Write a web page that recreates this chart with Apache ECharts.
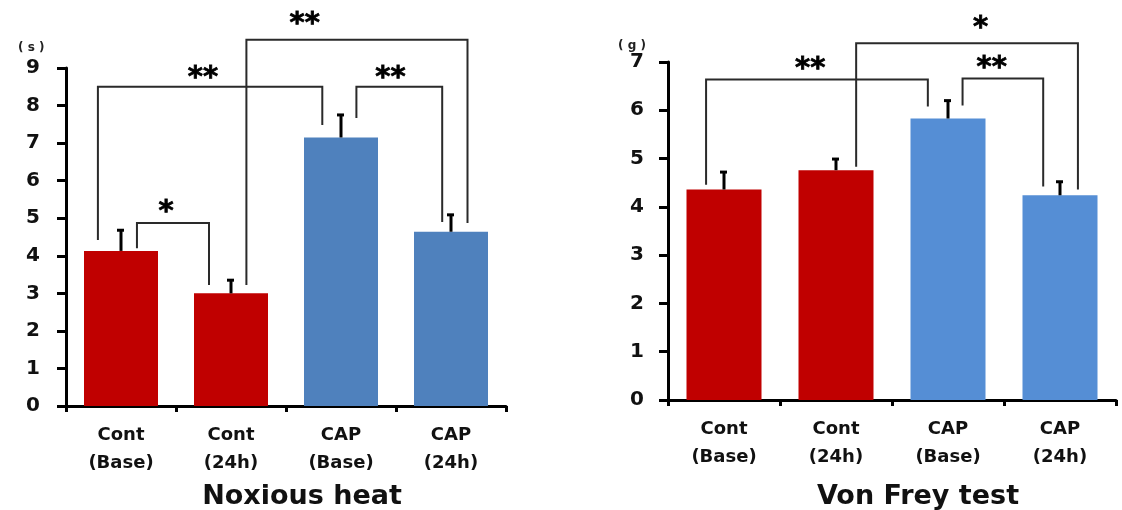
<!DOCTYPE html>
<html><head><meta charset="utf-8">
<script src="https://cdn.jsdelivr.net/npm/echarts@6/dist/echarts.min.js"></script>
<style>html,body{margin:0;padding:0;background:#fff}#c{width:1122px;height:510px}</style>
</head><body><div id="c"></div>
<script>
// ---- data ----
const categories = ['Cont\n(Base)', 'Cont\n(24h)', 'CAP\n(Base)', 'CAP\n(24h)'];
const heatValues = [4.13, 3.0, 7.15, 4.64];
const heatErrors = [0.55, 0.35, 0.6, 0.45];
const frayValues = [4.36, 4.76, 5.83, 4.24];
const frayErrors = [0.36, 0.23, 0.37, 0.28];
const heatTicks = [0, 9, 1];   // min, max, interval
const frayTicks = [0, 7, 1];
const heatTitle = 'Noxious heat';
const frayTitle = 'Von Frey test';
const heatUnit = '( s )';
const frayUnit = '( g )';
// brackets: [xLeft, xRight, yTop, yLeftBottom, yRightBottom, labelX, labelY, label] (x in category units)
const heatBrackets = [
  [0.145, 0.80, 4.87, 4.2, 3.22, 0.41, 5.35, '*'],
  [-0.21, 1.83, 8.5, 4.42, 7.48, 0.745, 8.9, '**'],
  [2.14, 2.92, 8.5, 7.67, 4.9, 2.45, 8.9, '**'],
  [1.14, 3.15, 9.75, 3.22, 4.87, 1.67, 10.34, '**']
];
const frayBrackets = [
  [-0.16, 1.82, 6.64, 4.46, 6.08, 0.77, 6.99, '**'],
  [2.13, 2.85, 6.66, 6.10, 4.42, 2.39, 7.01, '**'],
  [1.18, 3.16, 7.39, 4.83, 4.36, 2.29, 7.84, '*']
];

// ---- styles ----
const RED = '#C00000';
const heatColors = [RED, RED, '#4F81BD', '#4F81BD'];
const frayColors = [RED, RED, '#558ED5', '#558ED5'];
const FONT = '"DejaVu Sans", Verdana, sans-serif';

const chart = echarts.init(document.getElementById('c'));

function xAxis(gi) {
  return {
    type: 'category', gridIndex: gi, data: categories,
    axisLine: { lineStyle: { color: '#000', width: 3 } },
    axisTick: { show: true, length: 6, lineStyle: { color: '#000', width: 3 } },
    axisLabel: { color: '#111', fontFamily: FONT, fontWeight: 'bold', fontSize: 18, lineHeight: 28, margin: 15 }
  };
}
function yAxis(gi, t, m) {
  return {
    type: 'value', gridIndex: gi, min: t[0], max: t[1], interval: t[2],
    splitLine: { show: false },
    axisLine: { show: true, lineStyle: { color: '#000', width: 3 } },
    axisTick: { show: true, length: 9, lineStyle: { color: '#000', width: 3 } },
    axisLabel: { color: '#111', fontFamily: FONT, fontWeight: 'bold', fontSize: 20, margin: m }
  };
}
function barSeries(gi, vals, colors, w) {
  return {
    type: 'bar', xAxisIndex: gi, yAxisIndex: gi, barWidth: w,
    data: vals.map((v, i) => ({ value: v, itemStyle: { color: colors[i] } })),
    z: 2
  };
}
function errSeries(gi, vals, errs) {
  return {
    type: 'custom', xAxisIndex: gi, yAxisIndex: gi, z: 3,
    data: vals.map((v, i) => [i, v, errs[i]]),
    renderItem: function (params, api) {
      const i = api.value(0), v = api.value(1), e = api.value(2);
      const b = api.coord([i, v]), t = api.coord([i, v + e]);
      return { type: 'group', children: [
        { type: 'line', shape: { x1: b[0], y1: b[1], x2: t[0], y2: t[1] }, style: { stroke: '#000', lineWidth: 3 } },
        { type: 'line', shape: { x1: t[0] - 4, y1: t[1], x2: t[0] + 3, y2: t[1] }, style: { stroke: '#000', lineWidth: 3 } }
      ]};
    }
  };
}
function bracketSeries(gi, br) {
  return {
    type: 'custom', xAxisIndex: gi, yAxisIndex: gi, z: 4, clip: false,
    data: br.map(b => b.slice(0, 7)),
    renderItem: function (params, api) {
      const b = br[params.dataIndex];
      const band = api.size([1, 0])[0];
      const c0 = api.coord([0, 0])[0];
      const X = f => c0 + f * band;
      const Y = v => api.coord([0, v])[1];
      const xl = X(b[0]), xr = X(b[1]);
      return { type: 'group', children: [
        { type: 'polyline', shape: { points: [[xl, Y(b[3])], [xl, Y(b[2])], [xr, Y(b[2])], [xr, Y(b[4])]] },
          style: { stroke: '#2a2a2a', lineWidth: 2, fill: null } },
        { type: 'text', x: X(b[5]), y: Y(b[6]) + 7,
          style: { text: b[7], fill: '#000', font: 'bold 29px ' + FONT, textAlign: 'center', textVerticalAlign: 'middle', stroke: '#000', lineWidth: 0.8 } }
      ]};
    }
  };
}

chart.setOption({
  animation: false,
  backgroundColor: '#fff',
  grid: [
    { left: 66, top: 68, width: 440, height: 338 },
    { left: 668, top: 62, width: 448, height: 338 }
  ],
  xAxis: [xAxis(0), xAxis(1)],
  yAxis: [yAxis(0, heatTicks, 26), yAxis(1, frayTicks, 24)],
  title: [
    { text: heatTitle, left: 297, top: 478, textAlign: 'center', textStyle: { fontFamily: FONT, fontWeight: 'bold', fontSize: 27, color: '#111' } },
    { text: frayTitle, left: 913, top: 478, textAlign: 'center', textStyle: { fontFamily: FONT, fontWeight: 'bold', fontSize: 27, color: '#111' } },
    { text: heatUnit, left: 13, top: 37, textStyle: { fontFamily: FONT, fontWeight: 'bold', fontSize: 12, color: '#222' } },
    { text: frayUnit, left: 613, top: 35, textStyle: { fontFamily: FONT, fontWeight: 'bold', fontSize: 12, color: '#222' } }
  ],
  series: [
    barSeries(0, heatValues, heatColors, 74),
    errSeries(0, heatValues, heatErrors),
    bracketSeries(0, heatBrackets),
    barSeries(1, frayValues, frayColors, 75),
    errSeries(1, frayValues, frayErrors),
    bracketSeries(1, frayBrackets)
  ]
});
</script></body></html>
